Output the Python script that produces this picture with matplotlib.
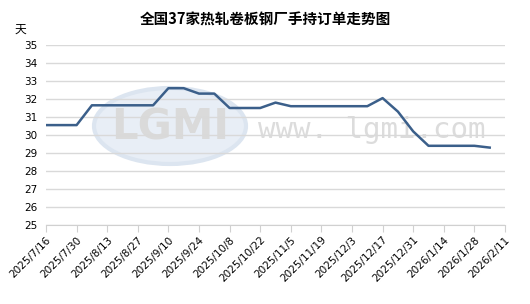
import pandas as pd
import numpy as np
import matplotlib
matplotlib.use('Agg')
import matplotlib.pyplot as plt
from matplotlib.patches import Ellipse

plt.rcParams['font.family'] = ['Noto Sans CJK SC', 'DejaVu Sans']

# weekly data
dates = pd.date_range('2025-07-16', periods=30, freq='7D')
values = [30.55, 30.55, 30.55, 31.65, 31.65, 31.65, 31.65, 31.65,
          32.6, 32.6, 32.3, 32.3, 31.5, 31.5, 31.5, 31.8,
          31.6, 31.6, 31.6, 31.6, 31.6, 31.6, 32.05, 31.3,
          30.2, 29.4, 29.4, 29.4, 29.4, 29.3]
tick_dates = pd.date_range('2025-07-16', '2026-02-11', freq='14D')
tick_labels = [f'{d.year}/{d.month}/{d.day}' for d in tick_dates]
y_ticks = list(range(25, 36))

W, H = 530, 304
fig = plt.figure(figsize=(W / 100, H / 100), dpi=100)
ax = fig.add_axes([46 / W, 1 - 225 / H, (505 - 46) / W, 180 / H])

# watermark (logo + site)
fig.add_artist(Ellipse((170 / W, 1 - 126 / H), 152 / W, 76 / H,
                       transform=fig.transFigure, facecolor='#e8eef6',
                       edgecolor='#dce5f0', lw=3, zorder=0))
fig.text(170 / W, 1 - 128 / H, 'LGMI', ha='center', va='center', fontsize=30,
         fontweight='bold', color='#dadada', family='DejaVu Sans', zorder=0.5)
fig.text(372 / W, 1 - 130 / H, 'www. lgmi.com', ha='center', va='center',
         fontsize=21, color='#dcdcdc', family='DejaVu Sans Mono', zorder=0.5)
ax.set_zorder(1)
ax.patch.set_alpha(0)

ax.plot(dates, values, color='#3b5f8a', lw=1.8, zorder=3)

ax.set_ylim(25, 35)
ax.set_yticks(y_ticks)
ax.set_xlim(tick_dates[0], tick_dates[-1])
ax.set_xticks(tick_dates)
ax.set_xticklabels(tick_labels, rotation=45, ha='right', rotation_mode='anchor',
                   fontsize=7.5, family='DejaVu Sans')
for lab in ax.get_yticklabels():
    lab.set_family('DejaVu Sans')
ax.tick_params(axis='y', length=0, labelsize=7.5, pad=6)
ax.tick_params(axis='x', length=5, color='#d0d0d0', direction='out', pad=2)
ax.grid(axis='y', color='#d9d9d9', lw=1)
for s in ['top', 'right', 'left']:
    ax.spines[s].set_visible(False)
ax.spines['bottom'].set_color('#d0d0d0')

fig.text(265 / W, 1 - 20 / H, '全国37家热轧卷板钢厂手持订单走势图', ha='center',
         va='center', fontsize=10.5, fontweight='bold')
fig.text(20 / W, 1 - 29 / H, '天', ha='center', va='center', fontsize=8.5)

plt.savefig('out.png', dpi=100)
